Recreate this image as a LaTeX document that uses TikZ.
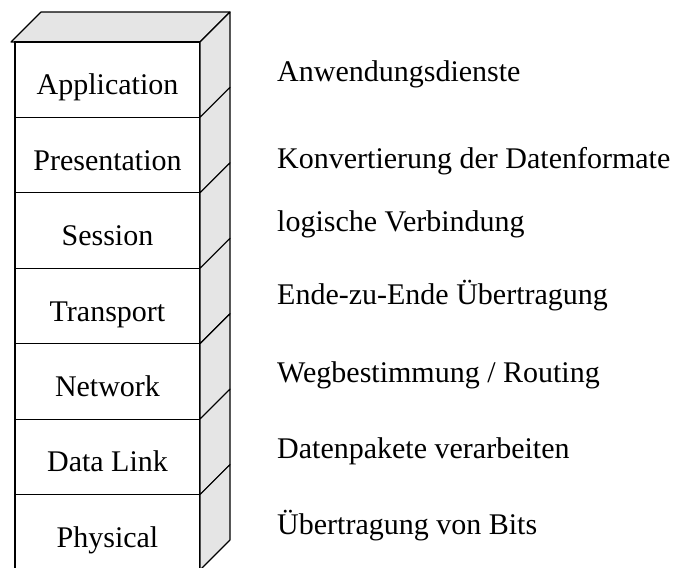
\documentclass[tikz,border=0pt]{standalone}
\usepackage{fontspec}
\setmainfont{Liberation Serif}
\usetikzlibrary{calc}
\begin{document}
\begin{tikzpicture}[x=1pt,y=-1pt,
  layer/.style={draw, line width=1.1pt, minimum width=185pt, minimum height=75.43pt,
    inner sep=0pt, outer sep=0pt, text height=30pt, text depth=0pt,
    font=\fontsize{30}{36}\selectfont},
  face/.style={draw, line width=1.1pt, fill=black!10, line join=round},
  desc/.style={anchor=base west, inner sep=0pt, font=\fontsize{30}{36}\selectfont}]
\useasboundingbox (0,0) rectangle (673,568);
% top face of the stack
\draw[face] (11,42) -- (41,12) -- (230,12) -- (200,42) -- cycle;
% the seven layers with their side faces
\foreach \name/\txt [count=\i from 0] in {app/Application, pres/Presentation,
    ses/Session, trans/Transport, net/Network, dl/Data Link, phy/Physical} {
  \node[layer] (\name) at (107.5, {42+75.43*(\i+0.5)}) {\txt};
  \draw[face] (\name.north east) -- ++(30,-30) -- ++(0,75.43) -- (\name.south east) -- cycle;
}
% descriptions of the layers
\node[desc] (dapp)   at (277,81)  {Anwendungsdienste};
\node[desc] (dpres)  at (277,168) {Konvertierung der Datenformate};
\node[desc] (dses)   at (277,231) {logische Verbindung};
\node[desc] (dtrans) at (277,304) {Ende-zu-Ende Übertragung};
\node[desc] (dnet)   at (277,382) {Wegbestimmung / Routing};
\node[desc] (ddl)    at (277,458) {Datenpakete verarbeiten};
\node[desc] (dphy)   at (277,534) {Übertragung von Bits};
\end{tikzpicture}
\end{document}
